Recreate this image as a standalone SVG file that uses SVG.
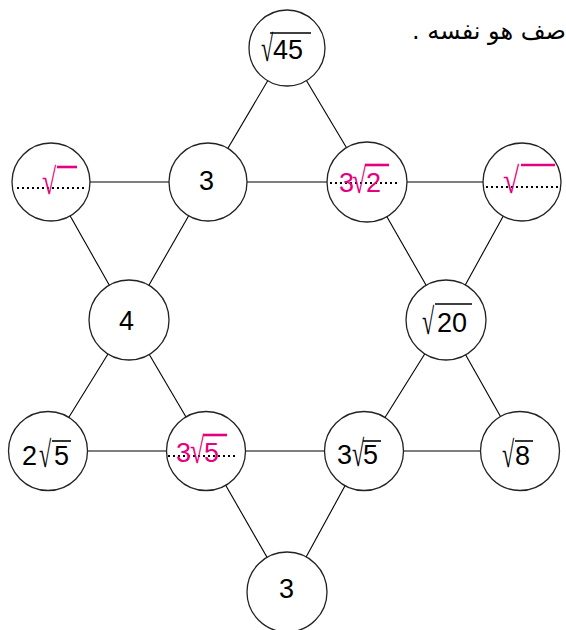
<svg xmlns="http://www.w3.org/2000/svg" width="566" height="630" viewBox="0 0 566 630">
<style>
.e{stroke:#000;stroke-width:1.1;fill:none}
.c{fill:#fff;stroke:#222;stroke-width:1.3}
.t{font-family:"Liberation Sans",Arial,sans-serif;font-size:27px;fill:#000}
.r{font-family:"Liberation Serif","DejaVu Serif",serif;font-size:37px;fill:#000}
.p{fill:#E6007E}
.vb{stroke:#000;stroke-width:1.6}
.vp{stroke:#E6007E;stroke-width:2.6}
.dot{stroke:#000;stroke-width:2.2;stroke-dasharray:2 3;fill:none}
.ar{font-family:"DejaVu Sans","Noto Sans",sans-serif;font-size:24px;fill:#000}
</style>
<g id="connectors">
<line class="e" x1="287" y1="48" x2="208" y2="182"/>
<line class="e" x1="287" y1="48" x2="367" y2="182"/>
<line class="e" x1="51" y1="182" x2="208" y2="182"/>
<line class="e" x1="208" y1="182" x2="367" y2="182"/>
<line class="e" x1="367" y1="182" x2="522" y2="182"/>
<line class="e" x1="208" y1="182" x2="129" y2="320"/>
<line class="e" x1="51" y1="182" x2="129" y2="320"/>
<line class="e" x1="367" y1="182" x2="446" y2="320"/>
<line class="e" x1="522" y1="182" x2="446" y2="320"/>
<line class="e" x1="129" y1="320" x2="48" y2="451"/>
<line class="e" x1="129" y1="320" x2="206" y2="451"/>
<line class="e" x1="446" y1="320" x2="364" y2="451"/>
<line class="e" x1="446" y1="320" x2="520" y2="451"/>
<line class="e" x1="48" y1="451" x2="206" y2="451"/>
<line class="e" x1="206" y1="451" x2="364" y2="451"/>
<line class="e" x1="364" y1="451" x2="520" y2="451"/>
<line class="e" x1="206" y1="451" x2="287" y2="592"/>
<line class="e" x1="364" y1="451" x2="287" y2="592"/>
</g>
<text class="ar" x="566" y="39" direction="rtl" text-anchor="start">صف هو نفسه .</text>
<g id="n_top">
<circle class="c" cx="287" cy="48" r="38"/>
<text class="r" transform="translate(261,61) scale(0.6,1)">√</text>
<line class="vb" x1="270" y1="33" x2="311" y2="33"/>
<text class="t" x="273" y="59">45</text>
</g>
<g id="n_l1">
<circle class="c" cx="51" cy="182" r="39"/>
<line class="dot" x1="17" y1="188" x2="84" y2="188"/>
<text class="r p" transform="translate(42,194) scale(0.7,1)" font-weight="bold">√</text>
<line class="vp" x1="57" y1="167" x2="77" y2="167"/>
</g>
<g id="n_3a">
<circle class="c" cx="208" cy="182" r="39"/>
<text class="t" x="206.5" y="190" text-anchor="middle">3</text>
</g>
<g id="n_32">
<circle class="c" cx="367" cy="182" r="40"/>
<line class="dot" x1="330" y1="183" x2="398" y2="183"/>
<text class="t p" x="339" y="192">3</text>
<text class="r p" transform="translate(352,193) scale(0.7,1)" font-weight="bold">√</text>
<line class="vp" x1="365" y1="165" x2="389" y2="165"/>
<text class="t p" x="366" y="192">2</text>
</g>
<g id="n_r1">
<circle class="c" cx="522" cy="182" r="39"/>
<line class="dot" x1="486" y1="187" x2="558" y2="187"/>
<text class="r p" transform="translate(503,193) scale(0.8,1)" font-weight="bold">√</text>
<line class="vp" x1="521" y1="165" x2="555" y2="165"/>
</g>
<g id="n_4">
<circle class="c" cx="129" cy="320" r="40"/>
<text class="t" x="126.5" y="330" text-anchor="middle">4</text>
</g>
<g id="n_20">
<circle class="c" cx="446" cy="320" r="40"/>
<text class="r" transform="translate(422,334) scale(0.6,1)">√</text>
<line class="vb" x1="435" y1="304" x2="472" y2="304"/>
<text class="t" x="437" y="332">20</text>
</g>
<g id="n_25">
<circle class="c" cx="48" cy="451" r="39.5"/>
<text class="t" x="22" y="465">2</text>
<text class="r" transform="translate(39,467) scale(0.6,1)">√</text>
<line class="vb" x1="52" y1="441" x2="71" y2="441"/>
<text class="t" x="54" y="465">5</text>
</g>
<g id="n_35p">
<circle class="c" cx="206" cy="451" r="39.5"/>
<line class="dot" x1="168" y1="456" x2="238" y2="456"/>
<text class="t p" x="176" y="462">3</text>
<text class="r p" transform="translate(190,463) scale(0.7,1)" font-weight="bold">√</text>
<line class="vp" x1="203" y1="435" x2="227" y2="435"/>
<text class="t p" x="204" y="462">5</text>
</g>
<g id="n_35">
<circle class="c" cx="364" cy="451" r="39.5"/>
<text class="t" x="337" y="464">3</text>
<text class="r" transform="translate(352,466) scale(0.6,1)">√</text>
<line class="vb" x1="363" y1="441" x2="381" y2="441"/>
<text class="t" x="363" y="464">5</text>
</g>
<g id="n_8">
<circle class="c" cx="520" cy="451" r="39.5"/>
<text class="r" transform="translate(502,467) scale(0.6,1)">√</text>
<line class="vb" x1="515" y1="441" x2="533" y2="441"/>
<text class="t" x="515" y="465">8</text>
</g>
<g id="n_bot">
<circle class="c" cx="287" cy="592" r="40"/>
<text class="t" x="286.5" y="598" text-anchor="middle">3</text>
</g>
</svg>
